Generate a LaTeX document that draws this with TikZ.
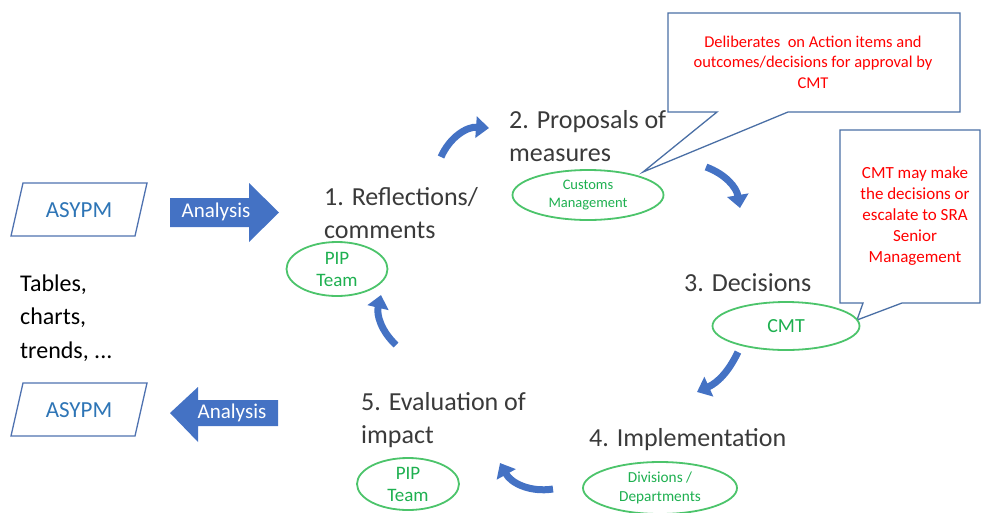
\documentclass[tikz,border=0pt]{standalone}
\usepackage{fontspec}
\setmainfont{Carlito}
\usetikzlibrary{arrows.meta,shapes.geometric}
\definecolor{headgray}{HTML}{3A3A3A}
\definecolor{ellgreen}{HTML}{4CC46B}
\definecolor{txtgreen}{HTML}{1EB050}
\definecolor{parablue}{HTML}{4F72B0}
\definecolor{asyblue}{HTML}{2E75B6}
\definecolor{arrblue}{HTML}{4472C4}
\definecolor{callblue}{HTML}{4A6FA5}
\definecolor{callred}{HTML}{FF0000}
\begin{document}
\begin{tikzpicture}[x=1pt,y=-1pt,
  head/.style={anchor=west, inner sep=0pt, align=left, text=headgray, font=\fontsize{26}{33}\selectfont},
  grn/.style={ellipse, draw=ellgreen, line width=1.8pt, text=txtgreen, inner sep=0pt, align=center, fill=white},
  para/.style={draw=parablue, line width=1.3pt, fill=white},
  asy/.style={text=asyblue, inner sep=0pt, font=\fontsize{23}{28}\selectfont},
  blockarrow/.style={fill=arrblue},
  antext/.style={text=white, inner sep=0pt, font=\fontsize{21}{25}\selectfont},
  cyc/.style={draw=arrblue, line width=7pt, -{Triangle[length=13pt,width=21pt]}},
  callout/.style={draw=callblue, line width=1.3pt, fill=white},
  calltext/.style={text=callred, inner sep=0pt, align=center}
]
\useasboundingbox (0,0) rectangle (982,512);

% left side: ASYPM boxes
\draw[para] (23,183) -- (147,183) -- (135,236) -- (11,236) -- cycle;
\node[asy] (asy1) at (79,210) {ASYPM};
\draw[para] (23,383) -- (147,383) -- (135,436) -- (11,436) -- cycle;
\node[asy] (asy2) at (79,410) {ASYPM};

\node[anchor=west, inner sep=0pt, align=left, text=black, font=\fontsize{24}{33.5}\selectfont] (tables) at (20,318) {Tables,\\charts,\\trends, ...};

% block arrows
\fill[blockarrow] (170,198) -- (249,198) -- (249,183) -- (279,212.5) -- (249,242) -- (249,227) -- (170,227) -- cycle;
\node[antext] (an1) at (216,212) {Analysis};
\fill[blockarrow] (170,413) -- (198,387) -- (198,400) -- (278,400) -- (278,426) -- (198,426) -- (198,442) -- cycle;
\node[antext] (an2) at (232,413) {Analysis};

% callouts
\draw[callout] (668,13) -- (960,13) -- (960,112) -- (788,112) -- (643,172) -- (717,112) -- (668,112) -- cycle;
\node[calltext, font=\fontsize{16.5}{20.5}\selectfont] (c1) at (813,62) {Deliberates~ on Action items and\\outcomes/decisions for approval by\\CMT};
\draw[callout] (840,130) -- (980,130) -- (980,303) -- (902,303) -- (857,320) -- (863,303) -- (840,303) -- cycle;
\node[calltext, font=\fontsize{17}{21}\selectfont] (c2) at (915,216) {CMT may make\\the decisions or\\escalate to SRA\\Senior\\Management};

% stage headings
\node[head] (s1) at (324,213) {1. Reflections/\\comments};
\node[head] (s2) at (509,136) {2. Proposals of\\measures};
\node[head] (s3) at (684,283) {3. Decisions};
\node[head] (s4) at (589,440) {4. Implementation};
\node[head] (s5) at (361,420) {5. Evaluation of\\impact};

% ellipses
\node[grn, minimum width=101pt, minimum height=54pt, font=\fontsize{19}{22}\selectfont] (pip1) at (337,269) {PIP\\Team};
\node[grn, minimum width=151pt, minimum height=50pt, font=\fontsize{14.5}{18}\selectfont] (cust) at (588,195) {Customs\\Management};
\node[grn, minimum width=147pt, minimum height=48pt, font=\fontsize{20}{24}\selectfont] (cmt) at (786,326) {CMT};
\node[grn, minimum width=154pt, minimum height=52pt, font=\fontsize{15.3}{19}\selectfont] (div) at (660,488) {Divisions /\\Departments};
\node[grn, minimum width=102pt, minimum height=52pt, font=\fontsize{19}{22}\selectfont] (pip2) at (408,484) {PIP\\Team};

% cycle arrows
\coordinate (a1s) at (441,157); \coordinate (a1e) at (489,128);
\coordinate (a2s) at (706,167); \coordinate (a2e) at (740,208);
\coordinate (a3s) at (738,352); \coordinate (a3e) at (697,392);
\coordinate (a4s) at (553,489); \coordinate (a4e) at (500,463);
\coordinate (a5s) at (396,345); \coordinate (a5e) at (381,295);
\draw[cyc] (a1s) to[bend left=35] (a1e);
\draw[cyc] (a2s) to[bend left=30] (a2e);
\draw[cyc] (a3s) to[bend left=20] (a3e);
\draw[cyc] (a4s) to[bend left=35] (a4e);
\draw[cyc] (a5s) to[bend left=30] (a5e);
\end{tikzpicture}
\end{document}
